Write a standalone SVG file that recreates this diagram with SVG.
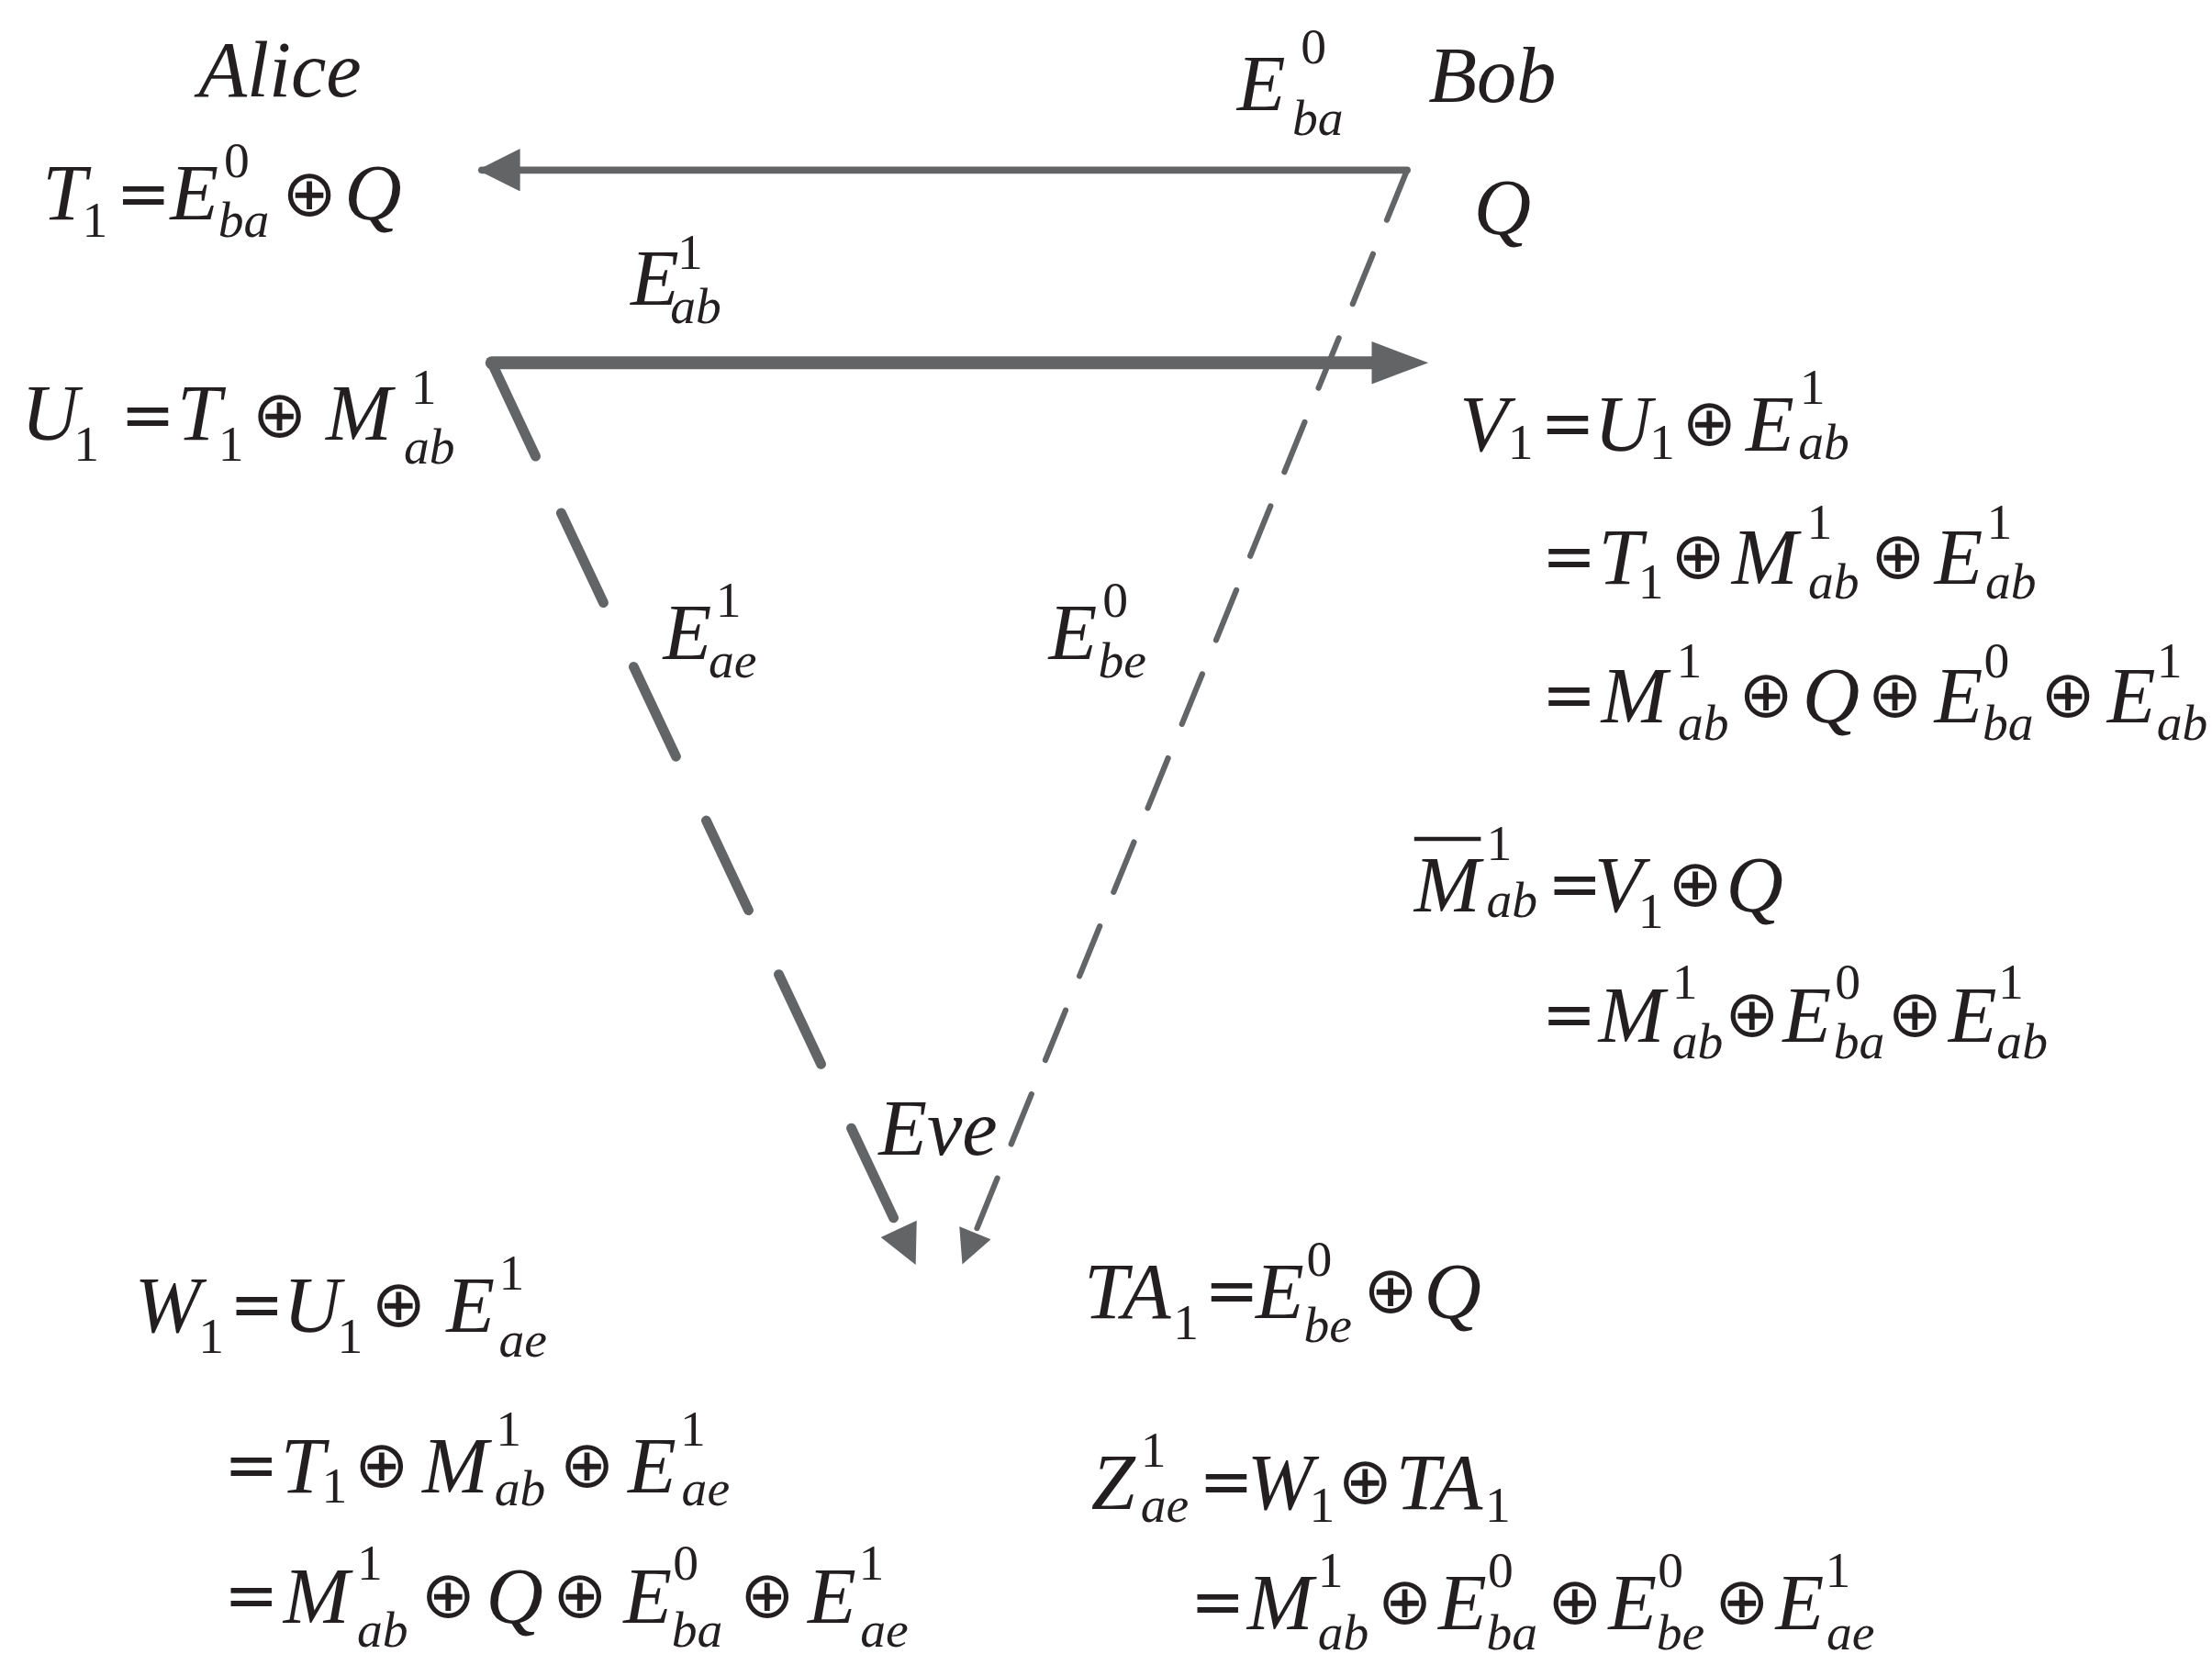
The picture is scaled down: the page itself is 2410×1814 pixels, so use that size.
<svg xmlns="http://www.w3.org/2000/svg" width="2410" height="1814" viewBox="0 0 2410 1814">
<style>
text{font-family:"Liberation Serif","DejaVu Serif","Times New Roman",serif;font-style:italic;fill:#231f20;font-size:56px}
.s{font-size:36px}
.o{font-style:normal;font-family:"DejaVu Sans",sans-serif;font-size:46px}
.n{font-style:normal}
.c{fill:none;stroke:#636466;stroke-linecap:round}
</style>
<defs>
<marker id="ah" viewBox="0 0 10 10" refX="9" refY="5" markerWidth="5" markerHeight="4" orient="auto" markerUnits="strokeWidth"><path d="M0,0 L10,5 L0,10 z" fill="#636466"/></marker>
<marker id="ah3" viewBox="0 0 10 10" refX="9" refY="5" markerWidth="9" markerHeight="6" orient="auto" markerUnits="strokeWidth"><path d="M0,0 L10,5 L0,10 z" fill="#636466"/></marker>
</defs>
<rect width="2410" height="1814" fill="#fff"/>
<g transform="scale(1.5439)">
<g id="connectors">
<path class="c" d="M993,120 L340,120" stroke-width="5" marker-end="url(#ah3)"/>
<path class="c" d="M993,120 L680,890" stroke-width="4" stroke-dasharray="38 26" marker-end="url(#ah3)"/>
<path class="c" d="M347,256 L968,256" stroke-width="9"/>
<path d="M968,241 L1008,256 L968,271 z" fill="#636466"/>
<path class="c" d="M347,256 L378,322" stroke-width="7"/>
<path class="c" d="M396,362 L645,890" stroke-width="7" stroke-dasharray="70 50" marker-end="url(#ah)"/>
</g>
<g id="alice"><text x="140" y="68">Alice</text></g>
<g id="bob"><text x="1008" y="72">Bob</text><text x="1040" y="165">Q</text></g>
<g id="eve"><text x="620" y="815">Eve</text></g>
<g id="label-eba"><text x="873" y="78">E</text><text class="s n" x="918" y="45">0</text><text class="s" x="912" y="95">ba</text></g>
<g id="label-eab"><text x="445" y="215">E</text><text class="s n" x="478" y="190">1</text><text class="s" x="473" y="228">ab</text></g>
<g id="label-eae"><text x="468" y="465">E</text><text class="s n" x="505" y="435">1</text><text class="s" x="500" y="478">ae</text></g>
<g id="label-ebe"><text x="740" y="465">E</text><text class="s n" x="778" y="435">0</text><text class="s" x="775" y="478">be</text></g>
<g id="eq-t1"><text x="30" y="155">T</text><text class="s n" x="58" y="167">1</text><text class="o" x="82" y="152">=</text><text x="120" y="155">E</text><text class="s n" x="158" y="125">0</text><text class="s" x="154" y="167">ba</text><text class="o" x="199" y="152">⊕</text><text x="243" y="155">Q</text></g>
<g id="eq-u1"><text x="15" y="310">U</text><text class="s n" x="52" y="325">1</text><text class="o" x="85" y="308">=</text><text x="125" y="310">T</text><text class="s n" x="154" y="325">1</text><text class="o" x="178" y="308">⊕</text><text x="230" y="310">M</text><text class="s n" x="290" y="285">1</text><text class="s" x="285" y="327">ab</text></g>
<g id="eq-v1">
<text x="1030" y="318">V</text><text class="s n" x="1064" y="324">1</text><text class="o" x="1087" y="314">=</text><text x="1125" y="318">U</text><text class="s n" x="1164" y="324">1</text><text class="o" x="1187" y="314">⊕</text><text x="1232" y="318">E</text><text class="s n" x="1270" y="285">1</text><text class="s" x="1269" y="324">ab</text>
<text class="o" x="1088" y="408">=</text><text x="1128" y="412">T</text><text class="s n" x="1156" y="422">1</text><text class="o" x="1179" y="408">⊕</text><text x="1222" y="412">M</text><text class="s n" x="1275" y="380">1</text><text class="s" x="1276" y="422">ab</text><text class="o" x="1320" y="408">⊕</text><text x="1365" y="412">E</text><text class="s n" x="1402" y="380">1</text><text class="s" x="1401" y="422">ab</text>
<text class="o" x="1088" y="506">=</text><text x="1130" y="510">M</text><text class="s n" x="1183" y="478">1</text><text class="s" x="1184" y="522">ab</text><text class="o" x="1227" y="506">⊕</text><text x="1272" y="510">Q</text><text class="o" x="1318" y="506">⊕</text><text x="1365" y="510">E</text><text class="s n" x="1400" y="478">0</text><text class="s" x="1399" y="522">ba</text><text class="o" x="1440" y="506">⊕</text><text x="1487" y="510">E</text><text class="s n" x="1522" y="478">1</text><text class="s" x="1522" y="522">ab</text>
</g>
<g id="eq-mbar">
<line x1="998" y1="592" x2="1045" y2="592" stroke="#231f20" stroke-width="3"/>
<text x="998" y="643">M</text><text class="s n" x="1049" y="607">1</text><text class="s" x="1049" y="647">ab</text><text class="o" x="1092" y="639">=</text><text x="1125" y="643">V</text><text class="s n" x="1156" y="655">1</text><text class="o" x="1177" y="639">⊕</text><text x="1218" y="643">Q</text>
<text class="o" x="1088" y="731">=</text><text x="1128" y="735">M</text><text class="s n" x="1180" y="705">1</text><text class="s" x="1180" y="747">ab</text><text class="o" x="1217" y="731">⊕</text><text x="1258" y="735">E</text><text class="s n" x="1295" y="705">0</text><text class="s" x="1294" y="747">ba</text><text class="o" x="1332" y="731">⊕</text><text x="1375" y="735">E</text><text class="s n" x="1410" y="705">1</text><text class="s" x="1409" y="747">ab</text>
</g>
<g id="eq-w1">
<text x="95" y="940">W</text><text class="s n" x="140" y="955">1</text><text class="o" x="162" y="936">=</text><text x="200" y="940">U</text><text class="s n" x="238" y="955">1</text><text class="o" x="262" y="936">⊕</text><text x="315" y="940">E</text><text class="s n" x="352" y="910">1</text><text class="s" x="352" y="957">ae</text>
<text class="o" x="158" y="1049">=</text><text x="198" y="1053">T</text><text class="s n" x="227" y="1060">1</text><text class="o" x="250" y="1049">⊕</text><text x="298" y="1053">M</text><text class="s n" x="350" y="1020">1</text><text class="s" x="349" y="1062">ab</text><text class="o" x="395" y="1049">⊕</text><text x="443" y="1053">E</text><text class="s n" x="480" y="1020">1</text><text class="s" x="481" y="1062">ae</text>
<text class="o" x="158" y="1141">=</text><text x="200" y="1145">M</text><text class="s n" x="252" y="1115">1</text><text class="s" x="252" y="1162">ab</text><text class="o" x="297" y="1141">⊕</text><text x="343" y="1145">Q</text><text class="o" x="390" y="1141">⊕</text><text x="440" y="1145">E</text><text class="s n" x="475" y="1115">0</text><text class="s" x="474" y="1162">ba</text><text class="o" x="522" y="1141">⊕</text><text x="570" y="1145">E</text><text class="s n" x="606" y="1115">1</text><text class="s" x="607" y="1162">ae</text>
</g>
<g id="eq-ta1"><text x="765" y="930">TA</text><text class="s n" x="828" y="945">1</text><text class="o" x="850" y="926">=</text><text x="886" y="930">E</text><text class="s n" x="922" y="900">0</text><text class="s" x="920" y="947">be</text><text class="o" x="962" y="926">⊕</text><text x="1005" y="930">Q</text></g>
<g id="eq-z">
<text x="770" y="1065">Z</text><text class="s n" x="805" y="1035">1</text><text class="s" x="805" y="1074">ae</text><text class="o" x="846" y="1061">=</text><text x="880" y="1065">W</text><text class="s n" x="924" y="1074">1</text><text class="o" x="944" y="1061">⊕</text><text x="985" y="1065">TA</text><text class="s n" x="1048" y="1074">1</text>
<text class="o" x="840" y="1146">=</text><text x="880" y="1150">M</text><text class="s n" x="930" y="1120">1</text><text class="s" x="930" y="1164">ab</text><text class="o" x="972" y="1146">⊕</text><text x="1015" y="1150">E</text><text class="s n" x="1050" y="1120">0</text><text class="s" x="1049" y="1164">ba</text><text class="o" x="1092" y="1146">⊕</text><text x="1135" y="1150">E</text><text class="s n" x="1170" y="1120">0</text><text class="s" x="1169" y="1164">be</text><text class="o" x="1210" y="1146">⊕</text><text x="1253" y="1150">E</text><text class="s n" x="1288" y="1120">1</text><text class="s" x="1289" y="1164">ae</text>
</g>
</g>
</svg>
